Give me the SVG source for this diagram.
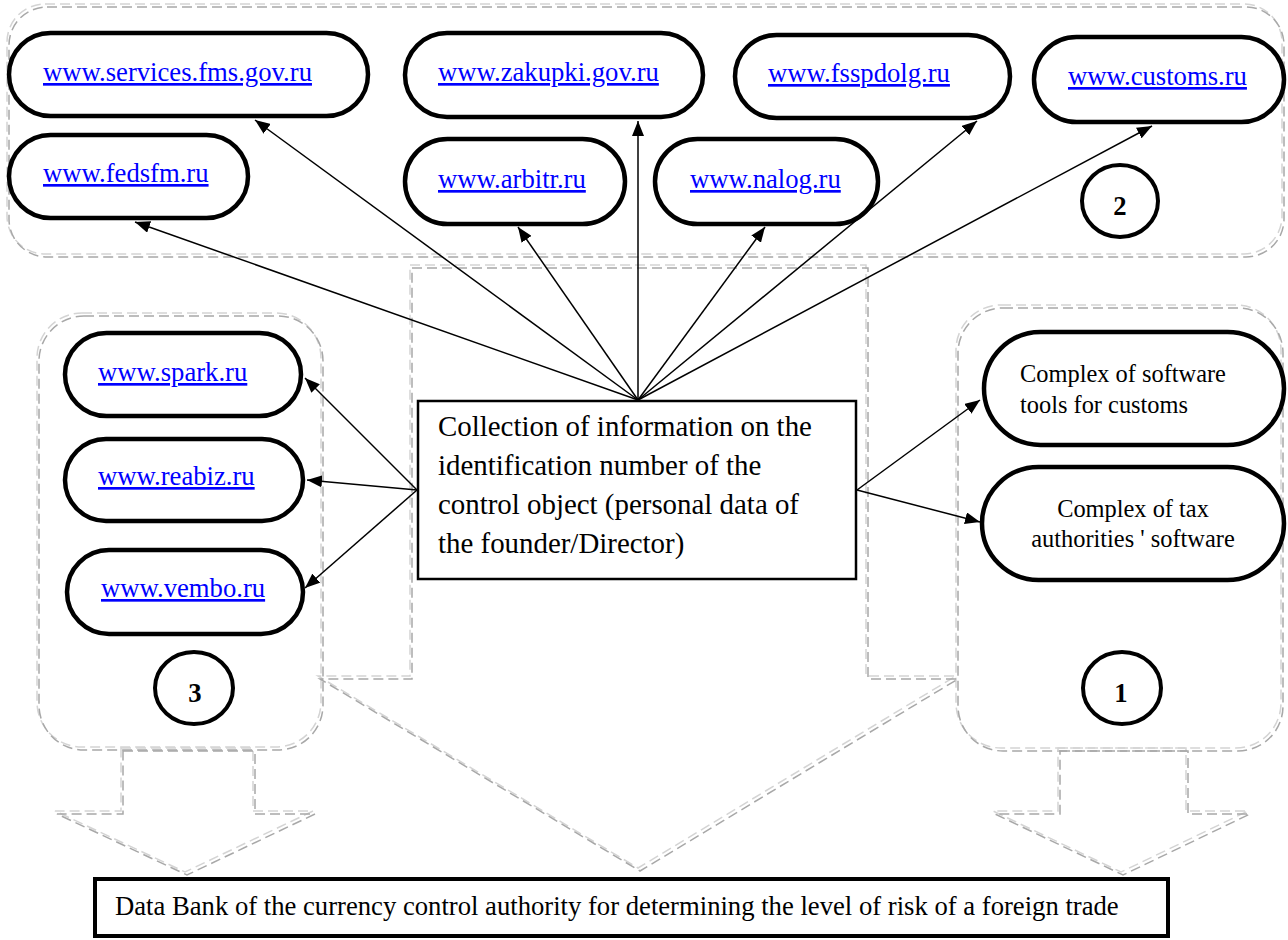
<svg xmlns="http://www.w3.org/2000/svg" width="1288" height="940" viewBox="0 0 1288 940">
<style>
.bg{fill:#ffffff}
.dl{fill:none;stroke:#d4d4d4;stroke-width:1.5;stroke-dasharray:10 5}
.dd{fill:none;stroke:#a8a8a8;stroke-width:1.5;stroke-dasharray:10 5}
.pill{fill:#ffffff;stroke:#000;stroke-width:4.5}
.circ{fill:#ffffff;stroke:#000;stroke-width:4}
.url{font-family:"Liberation Serif","Times New Roman",serif;font-size:26.67px;fill:#0000ff;text-decoration:underline}
.num{font-family:"Liberation Serif","Times New Roman",serif;font-size:26.67px;font-weight:bold;fill:#000;text-anchor:middle}
.txt{font-family:"Liberation Serif","Times New Roman",serif;fill:#000}
.edge{fill:none;stroke:#000;stroke-width:1.5;marker-end:url(#ah)}
</style>
<defs>
<marker id="ah" markerUnits="userSpaceOnUse" markerWidth="15" markerHeight="12" refX="15" refY="6" orient="auto">
<path d="M0,0 L15,6 L0,12 z" fill="#000"/>
</marker>
<path id="s2" d="M45,4 H1244 A38,38 0 0 1 1282,42 V216 A38,38 0 0 1 1244,254 H45 A38,38 0 0 1 7,216 V42 A38,38 0 0 1 45,4 Z"/>
<path id="s3" d="M82,313 H276 A45,45 0 0 1 321,358 V702 A45,45 0 0 1 276,747 H82 A45,45 0 0 1 37,702 V358 A45,45 0 0 1 82,313 Z"/>
<path id="s1" d="M1001,305 H1236 A45,45 0 0 1 1281,350 V703 A45,45 0 0 1 1236,748 H1001 A45,45 0 0 1 956,703 V350 A45,45 0 0 1 1001,305 Z"/>
<path id="ac" d="M410,265 H866 V676 H956 L638,868 L318,676 H410 Z"/>
<path id="al" d="M121,748 H253 V811 H313 L185,872 L55,811 H121 Z"/>
<path id="ar" d="M1058,748 H1186 V811 H1248 L1121,872 L993,811 H1058 Z"/>
</defs>
<rect class="bg" x="0" y="0" width="1288" height="940"/>

<g id="frames">
<use href="#s2" class="dl"/><use href="#s2" class="dd" transform="translate(2,3)"/>
<use href="#s3" class="dl"/><use href="#s3" class="dd" transform="translate(2,3)"/>
<use href="#s1" class="dl"/><use href="#s1" class="dd" transform="translate(2,3)"/>
<use href="#ac" class="dl"/><use href="#ac" class="dd" transform="translate(2,3)"/>
<use href="#al" class="dl"/><use href="#al" class="dd" transform="translate(2,3)"/>
<use href="#ar" class="dl"/><use href="#ar" class="dd" transform="translate(2,3)"/>
</g>

<g id="connectors">
<line class="edge" x1="638" y1="400" x2="255" y2="120"/>
<line class="edge" x1="638" y1="400" x2="135" y2="222"/>
<line class="edge" x1="638" y1="400" x2="638" y2="121"/>
<line class="edge" x1="638" y1="400" x2="518" y2="227"/>
<line class="edge" x1="638" y1="400" x2="765" y2="227"/>
<line class="edge" x1="638" y1="400" x2="977" y2="121"/>
<line class="edge" x1="638" y1="400" x2="1152" y2="126"/>
<line class="edge" x1="417" y1="490" x2="305" y2="378"/>
<line class="edge" x1="417" y1="490" x2="307" y2="480"/>
<line class="edge" x1="417" y1="490" x2="305" y2="588"/>
<line class="edge" x1="857" y1="490" x2="980" y2="400"/>
<line class="edge" x1="857" y1="490" x2="980" y2="522"/>
</g>

<g id="n-services"><rect class="pill" x="9" y="33" width="359" height="83" rx="41.5"/><text class="url" x="43" y="81">www.services.fms.gov.ru</text></g>
<g id="n-fedsfm"><rect class="pill" x="9" y="135" width="239" height="83" rx="41.5"/><text class="url" x="43" y="182">www.fedsfm.ru</text></g>
<g id="n-zakupki"><rect class="pill" x="405" y="33" width="298" height="84" rx="42"/><text class="url" x="438" y="81">www.zakupki.gov.ru</text></g>
<g id="n-arbitr"><rect class="pill" x="405" y="139" width="220" height="85" rx="42.5"/><text class="url" x="438" y="188">www.arbitr.ru</text></g>
<g id="n-nalog"><rect class="pill" x="655" y="139" width="223" height="85" rx="42.5"/><text class="url" x="690" y="188">www.nalog.ru</text></g>
<g id="n-fsspdolg"><rect class="pill" x="735" y="35" width="275" height="83" rx="41.5"/><text class="url" x="768" y="82">www.fsspdolg.ru</text></g>
<g id="n-customs"><rect class="pill" x="1034" y="37" width="250" height="85" rx="42.5"/><text class="url" x="1068" y="85">www.customs.ru</text></g>
<g id="n-2"><ellipse class="circ" cx="1120" cy="201" rx="38" ry="36"/><text class="num" x="1120" y="215">2</text></g>

<g id="n-spark"><rect class="pill" x="65" y="333" width="236" height="83" rx="41.5"/><text class="url" x="98" y="381">www.spark.ru</text></g>
<g id="n-reabiz"><rect class="pill" x="65" y="439" width="238" height="82" rx="41"/><text class="url" x="98" y="485">www.reabiz.ru</text></g>
<g id="n-vembo"><rect class="pill" x="67" y="550" width="236" height="84" rx="42"/><text class="url" x="101" y="597">www.vembo.ru</text></g>
<g id="n-3"><ellipse class="circ" cx="194" cy="688" rx="39" ry="36"/><text class="num" x="195" y="702">3</text></g>

<g id="n-collect"><rect x="418" y="401" width="438" height="178" fill="#fff" stroke="#000" stroke-width="2.5"/>
<text class="txt" font-size="28.9" x="438"><tspan x="438" y="436">Collection of information on the</tspan><tspan x="438" y="475">identification number of the</tspan><tspan x="438" y="514">control object (personal data of</tspan><tspan x="438" y="553">the founder/Director)</tspan></text></g>

<g id="n-custsoft"><rect class="pill" x="984" y="332" width="300" height="113" rx="56.5"/>
<text class="txt" font-size="24.4"><tspan x="1020" y="382">Complex of software</tspan><tspan x="1020" y="413">tools for customs</tspan></text></g>
<g id="n-taxsoft"><rect class="pill" x="982" y="467" width="302" height="113" rx="56.5"/>
<text class="txt" font-size="24.4" text-anchor="middle"><tspan x="1133" y="517">Complex of tax</tspan><tspan x="1133" y="547">authorities ' software</tspan></text></g>
<g id="n-1"><ellipse class="circ" cx="1122" cy="688" rx="39" ry="36"/><text class="num" x="1121" y="702">1</text></g>

<g id="n-databank"><rect x="95" y="879" width="1073" height="57" fill="#fff" stroke="#000" stroke-width="4"/>
<text class="txt" font-size="26.67" x="115" y="915">Data Bank of the currency control authority for determining the level of risk of a foreign trade</text></g>
</svg>
